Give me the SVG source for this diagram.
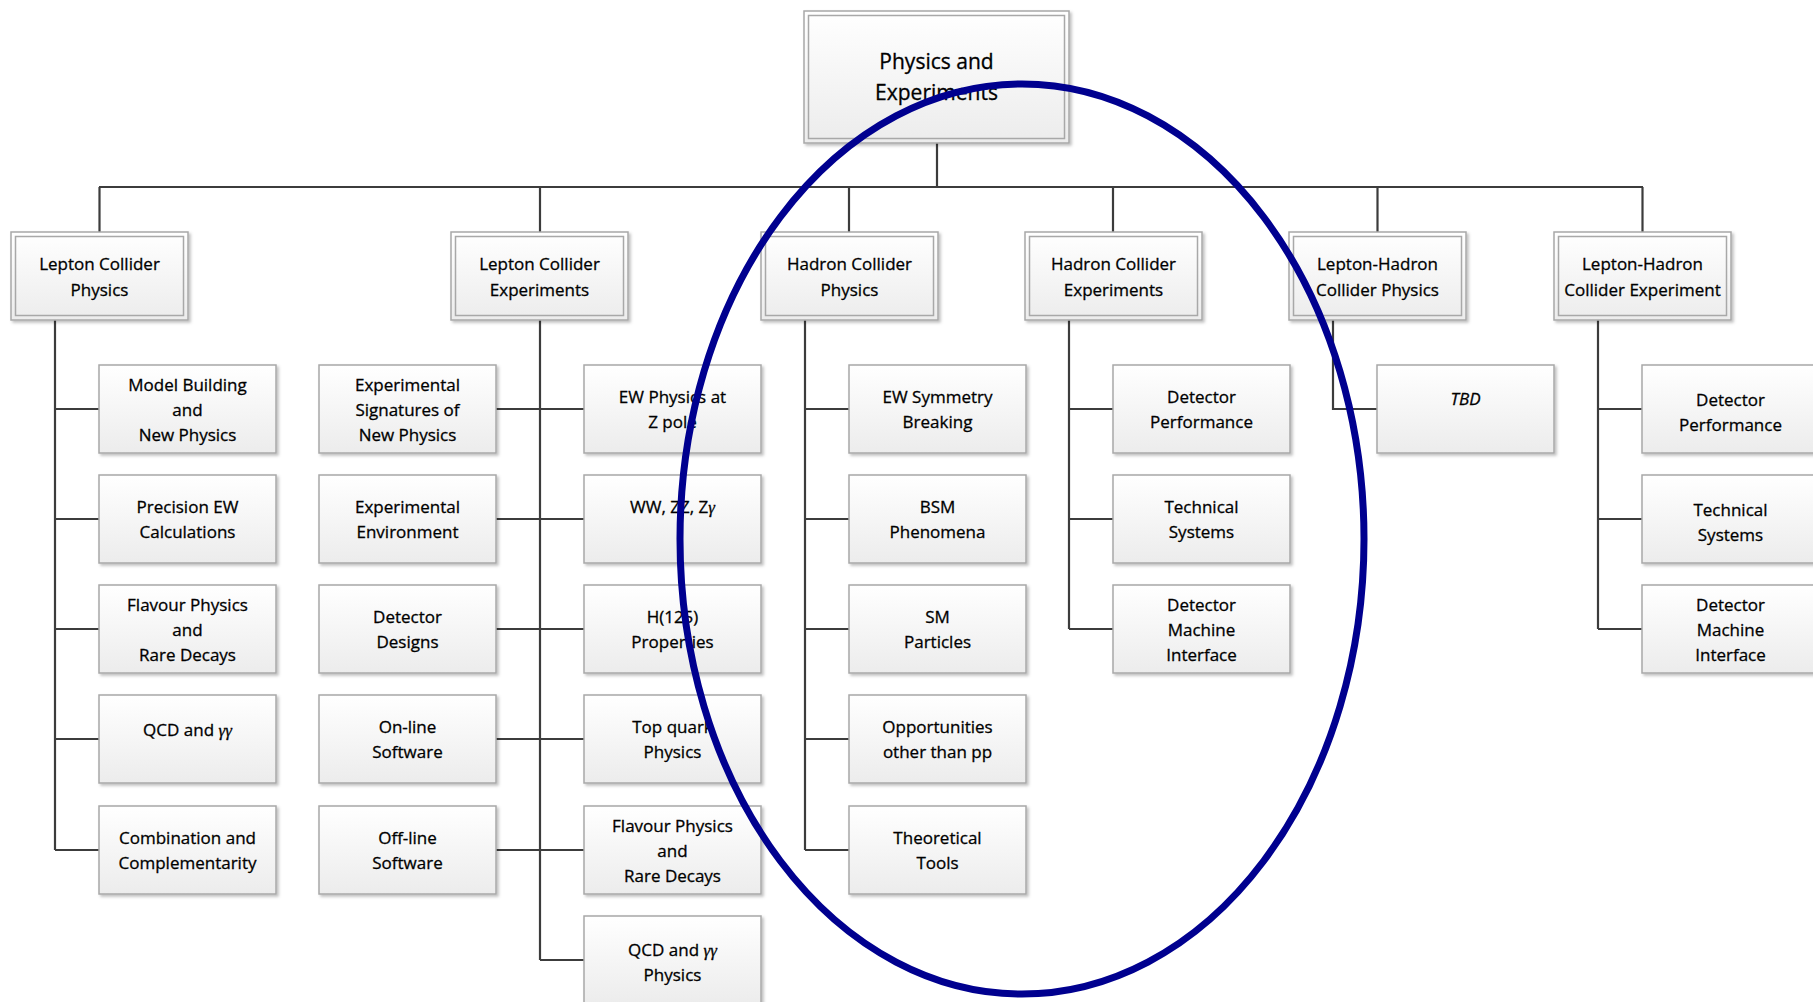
<svg xmlns="http://www.w3.org/2000/svg" width="1813" height="1002" viewBox="0 0 1813 1002">
<defs>
<linearGradient id="g" x1="0" y1="0" x2="0" y2="1">
<stop offset="0" stop-color="#ffffff"/>
<stop offset="1" stop-color="#ececec"/>
</linearGradient>
<filter id="sh" x="-10%" y="-10%" width="125%" height="130%">
<feDropShadow dx="2" dy="2" stdDeviation="1.5" flood-color="#000" flood-opacity="0.25"/>
</filter>
</defs>
<style>
.box{fill:url(#g);stroke:#a8a8a8;stroke-width:1.5;filter:url(#sh)}
.inner{fill:none;stroke:#a8a8a8;stroke-width:1.5}
.t{font-family:"Open Sans","Liberation Sans",sans-serif;font-size:17px;fill:#000;stroke:#000;stroke-width:0.3;text-anchor:middle}
.big{font-size:21px}
.gm{font-family:"Liberation Serif",serif;font-style:italic}
.conn{stroke:#3c3c3c;stroke-width:2.2;fill:none}
</style>
<rect width="1813" height="1002" fill="#fff"/>

<g id="connectors" class="conn">
<path d="M937 143V187M99 187H1643M99.5 187V232M540 187V232M849 187V232M1113 187V232M1377.5 187V232M1642.5 187V232"/>
<path d="M55 320V850M55 409H99M55 519H99M55 629H99M55 739H99M55 850H99"/>
<path d="M540 320V960M496 409H584M496 519H584M496 629H584M496 739H584M496 850H584M540 960H584"/>
<path d="M805 320V850M805 409H849M805 519H849M805 629H849M805 739H849M805 850H849"/>
<path d="M1069 320V629M1069 409H1113M1069 519H1113M1069 629H1113"/>
<path d="M1333 320V409H1377"/>
<path d="M1598 320V629M1598 409H1642M1598 519H1642M1598 629H1642"/>
</g>

<g id="root">
<rect class="box" x="804" y="11" width="265" height="132"/>
<rect class="inner" x="808.5" y="15.5" width="256" height="123"/>
<text class="t big"><tspan x="936.5" y="69">Physics and</tspan><tspan x="936.5" y="100">Experiments</tspan></text>
</g>

<g id="lcp">
<rect class="box" x="11" y="232" width="177" height="88"/>
<rect class="inner" x="15.5" y="236.5" width="168" height="79"/>
<text class="t"><tspan x="99.5" y="270">Lepton Collider</tspan><tspan x="99.5" y="296">Physics</tspan></text>
</g>
<g id="lce">
<rect class="box" x="451" y="232" width="177" height="88"/>
<rect class="inner" x="455.5" y="236.5" width="168" height="79"/>
<text class="t"><tspan x="539.5" y="270">Lepton Collider</tspan><tspan x="539.5" y="296">Experiments</tspan></text>
</g>
<g id="hcp">
<rect class="box" x="761" y="232" width="177" height="88"/>
<rect class="inner" x="765.5" y="236.5" width="168" height="79"/>
<text class="t"><tspan x="849.5" y="270">Hadron Collider</tspan><tspan x="849.5" y="296">Physics</tspan></text>
</g>
<g id="hce">
<rect class="box" x="1025" y="232" width="177" height="88"/>
<rect class="inner" x="1029.5" y="236.5" width="168" height="79"/>
<text class="t"><tspan x="1113.5" y="270">Hadron Collider</tspan><tspan x="1113.5" y="296">Experiments</tspan></text>
</g>
<g id="lhcp">
<rect class="box" x="1289" y="232" width="177" height="88"/>
<rect class="inner" x="1293.5" y="236.5" width="168" height="79"/>
<text class="t"><tspan x="1377.5" y="270">Lepton-Hadron</tspan><tspan x="1377.5" y="296">Collider Physics</tspan></text>
</g>
<g id="lhce">
<rect class="box" x="1554" y="232" width="177" height="88"/>
<rect class="inner" x="1558.5" y="236.5" width="168" height="79"/>
<text class="t"><tspan x="1642.5" y="270">Lepton-Hadron</tspan><tspan x="1642.5" y="296">Collider Experiment</tspan></text>
</g>

<!-- Column A -->
<g id="a1"><rect class="box" x="99" y="365" width="177" height="88"/><text class="t"><tspan x="187.5" y="391">Model Building</tspan><tspan x="187.5" y="416">and</tspan><tspan x="187.5" y="441">New Physics</tspan></text></g>
<g id="a2"><rect class="box" x="99" y="475" width="177" height="88"/><text class="t"><tspan x="187.5" y="513">Precision EW</tspan><tspan x="187.5" y="538">Calculations</tspan></text></g>
<g id="a3"><rect class="box" x="99" y="585" width="177" height="88"/><text class="t"><tspan x="187.5" y="611">Flavour Physics</tspan><tspan x="187.5" y="636">and</tspan><tspan x="187.5" y="661">Rare Decays</tspan></text></g>
<g id="a4"><rect class="box" x="99" y="695" width="177" height="88"/><text class="t" x="187.5" y="736">QCD and <tspan class="gm">γγ</tspan></text></g>
<g id="a5"><rect class="box" x="99" y="806" width="177" height="88"/><text class="t"><tspan x="187.5" y="844">Combination and</tspan><tspan x="187.5" y="869">Complementarity</tspan></text></g>

<!-- Column B -->
<g id="b1"><rect class="box" x="319" y="365" width="177" height="88"/><text class="t"><tspan x="407.5" y="391">Experimental</tspan><tspan x="407.5" y="416">Signatures of</tspan><tspan x="407.5" y="441">New Physics</tspan></text></g>
<g id="b2"><rect class="box" x="319" y="475" width="177" height="88"/><text class="t"><tspan x="407.5" y="513">Experimental</tspan><tspan x="407.5" y="538">Environment</tspan></text></g>
<g id="b3"><rect class="box" x="319" y="585" width="177" height="88"/><text class="t"><tspan x="407.5" y="623">Detector</tspan><tspan x="407.5" y="648">Designs</tspan></text></g>
<g id="b4"><rect class="box" x="319" y="695" width="177" height="88"/><text class="t"><tspan x="407.5" y="733">On-line</tspan><tspan x="407.5" y="758">Software</tspan></text></g>
<g id="b5"><rect class="box" x="319" y="806" width="177" height="88"/><text class="t"><tspan x="407.5" y="844">Off-line</tspan><tspan x="407.5" y="869">Software</tspan></text></g>

<!-- Column C -->
<g id="c1"><rect class="box" x="584" y="365" width="177" height="88"/><text class="t"><tspan x="672.5" y="403">EW Physics at</tspan><tspan x="672.5" y="428">Z pole</tspan></text></g>
<g id="c2"><rect class="box" x="584" y="475" width="177" height="88"/><text class="t" x="672.5" y="513">WW, ZZ, Z<tspan class="gm">γ</tspan></text></g>
<g id="c3"><rect class="box" x="584" y="585" width="177" height="88"/><text class="t"><tspan x="672.5" y="623">H(125)</tspan><tspan x="672.5" y="648">Properties</tspan></text></g>
<g id="c4"><rect class="box" x="584" y="695" width="177" height="88"/><text class="t"><tspan x="672.5" y="733">Top quark</tspan><tspan x="672.5" y="758">Physics</tspan></text></g>
<g id="c5"><rect class="box" x="584" y="806" width="177" height="88"/><text class="t"><tspan x="672.5" y="832">Flavour Physics</tspan><tspan x="672.5" y="857">and</tspan><tspan x="672.5" y="882">Rare Decays</tspan></text></g>
<g id="c6"><rect class="box" x="584" y="916" width="177" height="88"/><text class="t"><tspan x="672.5" y="956">QCD and <tspan class="gm">γγ</tspan></tspan><tspan x="672.5" y="981">Physics</tspan></text></g>

<!-- Column D -->
<g id="d1"><rect class="box" x="849" y="365" width="177" height="88"/><text class="t"><tspan x="937.5" y="403">EW Symmetry</tspan><tspan x="937.5" y="428">Breaking</tspan></text></g>
<g id="d2"><rect class="box" x="849" y="475" width="177" height="88"/><text class="t"><tspan x="937.5" y="513">BSM</tspan><tspan x="937.5" y="538">Phenomena</tspan></text></g>
<g id="d3"><rect class="box" x="849" y="585" width="177" height="88"/><text class="t"><tspan x="937.5" y="623">SM</tspan><tspan x="937.5" y="648">Particles</tspan></text></g>
<g id="d4"><rect class="box" x="849" y="695" width="177" height="88"/><text class="t"><tspan x="937.5" y="733">Opportunities</tspan><tspan x="937.5" y="758">other than pp</tspan></text></g>
<g id="d5"><rect class="box" x="849" y="806" width="177" height="88"/><text class="t"><tspan x="937.5" y="844">Theoretical</tspan><tspan x="937.5" y="869">Tools</tspan></text></g>

<!-- Column E -->
<g id="e1"><rect class="box" x="1113" y="365" width="177" height="88"/><text class="t"><tspan x="1201.5" y="403">Detector</tspan><tspan x="1201.5" y="428">Performance</tspan></text></g>
<g id="e2"><rect class="box" x="1113" y="475" width="177" height="88"/><text class="t"><tspan x="1201.5" y="513">Technical</tspan><tspan x="1201.5" y="538">Systems</tspan></text></g>
<g id="e3"><rect class="box" x="1113" y="585" width="177" height="88"/><text class="t"><tspan x="1201.5" y="611">Detector</tspan><tspan x="1201.5" y="636">Machine</tspan><tspan x="1201.5" y="661">Interface</tspan></text></g>

<!-- Column F -->
<g id="f1"><rect class="box" x="1377" y="365" width="177" height="88"/><text class="t" x="1465.5" y="405" font-style="italic">TBD</text></g>

<!-- Column G -->
<g id="g1"><rect class="box" x="1642" y="365" width="177" height="88"/><text class="t"><tspan x="1730.5" y="406">Detector</tspan><tspan x="1730.5" y="431">Performance</tspan></text></g>
<g id="g2"><rect class="box" x="1642" y="475" width="177" height="88"/><text class="t"><tspan x="1730.5" y="516">Technical</tspan><tspan x="1730.5" y="541">Systems</tspan></text></g>
<g id="g3"><rect class="box" x="1642" y="585" width="177" height="88"/><text class="t"><tspan x="1730.5" y="611">Detector</tspan><tspan x="1730.5" y="636">Machine</tspan><tspan x="1730.5" y="661">Interface</tspan></text></g>

<ellipse cx="1022" cy="539" rx="342" ry="455" fill="none" stroke="#00008f" stroke-width="7"/>
</svg>
